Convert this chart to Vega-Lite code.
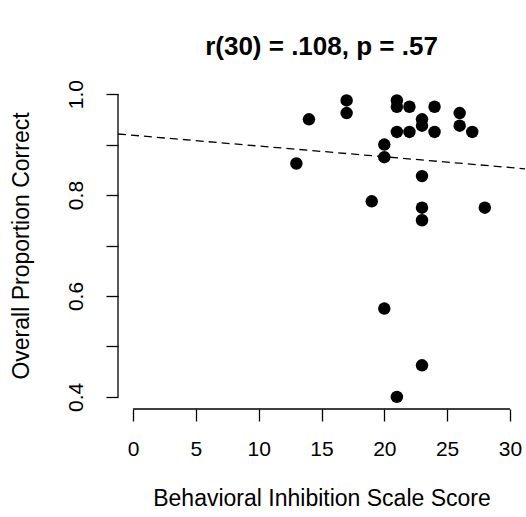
{
  "$schema": "https://vega.github.io/schema/vega-lite/v6.json",
  "width": 407,
  "height": 327,
  "autosize": {"type": "none"},
  "padding": {"left": 118, "top": 82, "right": 1, "bottom": 108},
  "background": "white",
  "config": {
    "view": {"stroke": null},
    "font": "Liberation Sans",
    "axis": {"grid": false, "domain": false, "tickColor": "black", "tickSize": 12, "tickWidth": 1.3, "labelColor": "black", "labelFont": "Liberation Sans", "labelFontSize": 21, "titleFont": "Liberation Sans", "titleFontSize": 23, "titleFontWeight": "normal", "titleColor": "black"}
  },
  "title": {"text": "r(30) = .108, p = .57", "fontSize": 26, "fontWeight": "bold", "font": "Liberation Sans", "anchor": "middle", "offset": 20, "color": "black"},
  "datasets": {
    "pts": [
      {"bis": 14, "prop": 0.95},
      {"bis": 13, "prop": 0.8625},
      {"bis": 17, "prop": 0.9875},
      {"bis": 17, "prop": 0.9625},
      {"bis": 21, "prop": 0.9875},
      {"bis": 21, "prop": 0.975},
      {"bis": 22, "prop": 0.975},
      {"bis": 24, "prop": 0.975},
      {"bis": 23, "prop": 0.95},
      {"bis": 23, "prop": 0.9375},
      {"bis": 21, "prop": 0.925},
      {"bis": 22, "prop": 0.925},
      {"bis": 24, "prop": 0.925},
      {"bis": 26, "prop": 0.9625},
      {"bis": 26, "prop": 0.9375},
      {"bis": 27, "prop": 0.925},
      {"bis": 20, "prop": 0.9},
      {"bis": 20, "prop": 0.875},
      {"bis": 23, "prop": 0.8375},
      {"bis": 19, "prop": 0.7875},
      {"bis": 23, "prop": 0.775},
      {"bis": 23, "prop": 0.75},
      {"bis": 28, "prop": 0.775},
      {"bis": 20, "prop": 0.575},
      {"bis": 23, "prop": 0.4625},
      {"bis": 21, "prop": 0.4}
    ],
    "fit": [{"x1": -1.2, "y1": 0.921, "x2": 31.2, "y2": 0.852}],
    "xaxis": [{"a": 0, "b": 30, "y": 0.376}],
    "yaxis": [{"a": 0.4, "b": 1.0, "x": -1.2}]
  },
  "layer": [
    {
      "data": {"name": "pts"},
      "mark": {"type": "point", "filled": true, "color": "black", "size": 155, "opacity": 1},
      "encoding": {
        "x": {"field": "bis", "type": "quantitative", "scale": {"domain": [-1.2, 31.2], "nice": false, "zero": false},
          "axis": {"values": [0, 5, 10, 15, 20, 25, 30], "title": "Behavioral Inhibition Scale Score", "labelPadding": 17, "titlePadding": 28}},
        "y": {"field": "prop", "type": "quantitative", "scale": {"domain": [0.376, 1.024], "nice": false, "zero": false},
          "axis": {"values": [0.4, 0.5, 0.6, 0.7, 0.8, 0.9, 1.0], "labelExpr": "round(datum.value*10)%2==0 ? format(datum.value,'.1f') : ''", "labelAngle": -90, "labelAlign": "center", "labelBaseline": "bottom", "labelPadding": 20, "title": "Overall Proportion Correct", "titlePadding": 32}}
      }
    },
    {
      "data": {"name": "fit"},
      "mark": {"type": "rule", "color": "black", "strokeDash": [8, 5], "strokeWidth": 1.3, "clip": true},
      "encoding": {
        "x": {"field": "x1", "type": "quantitative"},
        "y": {"field": "y1", "type": "quantitative"},
        "x2": {"field": "x2"},
        "y2": {"field": "y2"}
      }
    },
    {
      "data": {"name": "xaxis"},
      "mark": {"type": "rule", "color": "black", "strokeWidth": 1.3},
      "encoding": {
        "x": {"field": "a", "type": "quantitative"},
        "x2": {"field": "b"},
        "y": {"field": "y", "type": "quantitative"}
      }
    },
    {
      "data": {"name": "yaxis"},
      "mark": {"type": "rule", "color": "black", "strokeWidth": 1.3},
      "encoding": {
        "y": {"field": "a", "type": "quantitative"},
        "y2": {"field": "b"},
        "x": {"field": "x", "type": "quantitative"}
      }
    }
  ]
}
